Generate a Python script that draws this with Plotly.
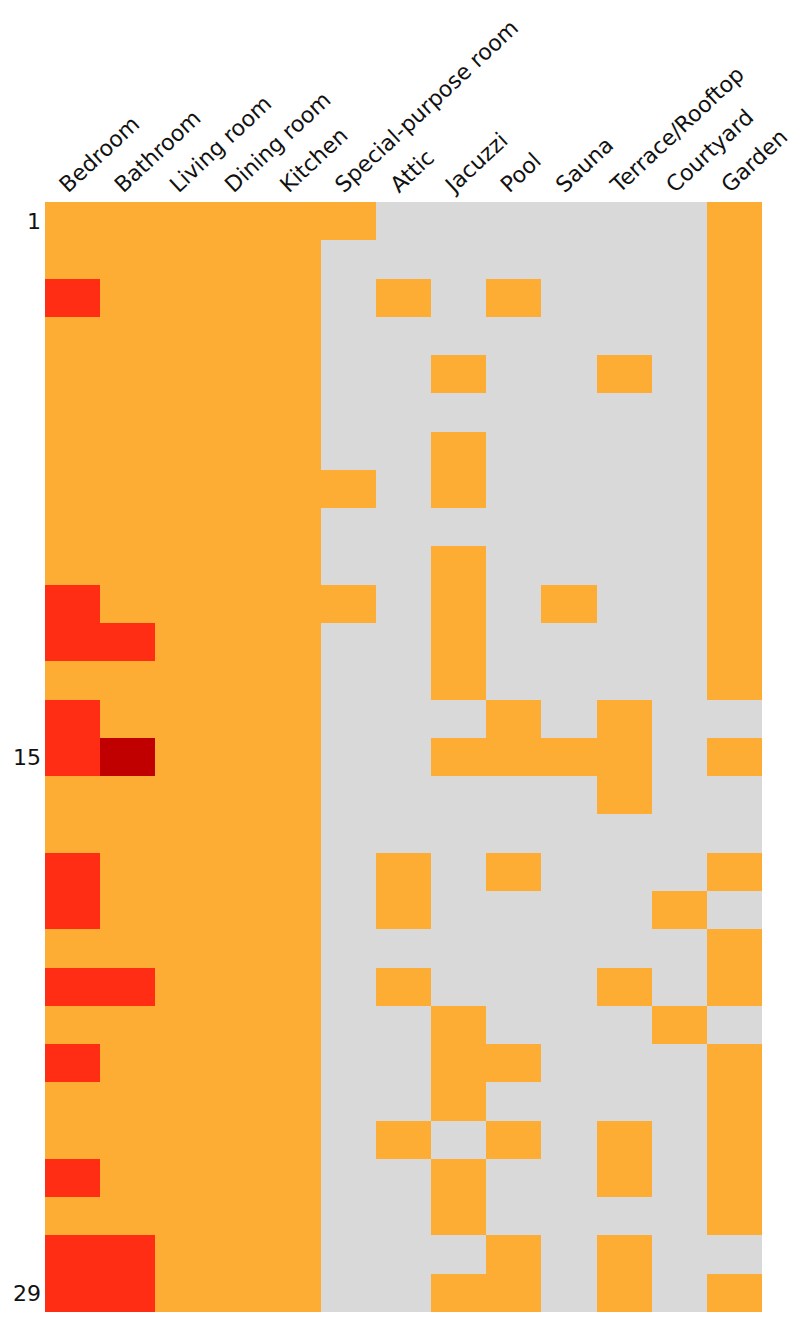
import plotly.graph_objects as go

columns = ["Bedroom", "Bathroom", "Living room", "Dining room", "Kitchen",
           "Special-purpose room", "Attic", "Jacuzzi", "Pool", "Sauna",
           "Terrace/Rooftop", "Courtyard", "Garden"]

rows = list(range(1, 30))

bedroom    = [1,1,2,1,1,1,1,1,1,1, 2,2,1,2,2,1,1,2,2,1, 2,1,2,1,1,2,1,2,2]
bathroom   = [1,1,1,1,1,1,1,1,1,1, 1,2,1,1,3,1,1,1,1,1, 2,1,1,1,1,1,1,2,2]
livingroom = [1,1,1,1,1,1,1,1,1,1, 1,1,1,1,1,1,1,1,1,1, 1,1,1,1,1,1,1,1,1]
diningroom = [1,1,1,1,1,1,1,1,1,1, 1,1,1,1,1,1,1,1,1,1, 1,1,1,1,1,1,1,1,1]
kitchen    = [1,1,1,1,1,1,1,1,1,1, 1,1,1,1,1,1,1,1,1,1, 1,1,1,1,1,1,1,1,1]
special    = [1,0,0,0,0,0,0,1,0,0, 1,0,0,0,0,0,0,0,0,0, 0,0,0,0,0,0,0,0,0]
attic      = [0,0,1,0,0,0,0,0,0,0, 0,0,0,0,0,0,0,1,1,0, 1,0,0,0,1,0,0,0,0]
jacuzzi    = [0,0,0,0,1,0,1,1,0,1, 1,1,1,0,1,0,0,0,0,0, 0,1,1,1,0,1,1,0,1]
pool       = [0,0,1,0,0,0,0,0,0,0, 0,0,0,1,1,0,0,1,0,0, 0,0,1,0,1,0,0,1,1]
sauna      = [0,0,0,0,0,0,0,0,0,0, 1,0,0,0,1,0,0,0,0,0, 0,0,0,0,0,0,0,0,0]
terrace    = [0,0,0,0,1,0,0,0,0,0, 0,0,0,1,1,1,0,0,0,0, 1,0,0,0,1,1,0,1,1]
courtyard  = [0,0,0,0,0,0,0,0,0,0, 0,0,0,0,0,0,0,0,1,0, 0,1,0,0,0,0,0,0,0]
garden     = [1,1,1,1,1,1,1,1,1,1, 1,1,1,0,1,0,0,1,0,1, 1,0,1,1,1,1,1,0,1]

series = [bedroom, bathroom, livingroom, diningroom, kitchen, special, attic,
          jacuzzi, pool, sauna, terrace, courtyard, garden]
z = [list(r) for r in zip(*series)]

y_ticks = [1, 15, 29]

gray, orange, red, dark = "#d9d9d9", "#fdad33", "#ff2d14", "#c00000"
colorscale = [[0, gray], [0.25, gray], [0.25, orange], [0.5, orange],
              [0.5, red], [0.75, red], [0.75, dark], [1, dark]]

fig = go.Figure(go.Heatmap(
    z=z, x=columns, y=rows, zmin=-0.5, zmax=3.5,
    colorscale=colorscale, showscale=False, xgap=0, ygap=0,
))

fig.update_layout(
    width=795, height=1314,
    margin=dict(l=37, r=41, t=194, b=10, autoexpand=False),
    paper_bgcolor="white", plot_bgcolor="white",
    font=dict(family="DejaVu Sans", size=22, color="#111"),
)
fig.update_xaxes(side="top", tickangle=-43, showgrid=False, zeroline=False,
                 ticks="", showline=False, automargin=False,
                 ticklabelshift=-12)
fig.update_yaxes(autorange="reversed", tickmode="array", tickvals=y_ticks,
                 ticktext=[str(v) for v in y_ticks], showgrid=False,
                 zeroline=False, ticks="", showline=False, automargin=False,
                 ticklabelstandoff=3)

fig.write_html("out.html")
